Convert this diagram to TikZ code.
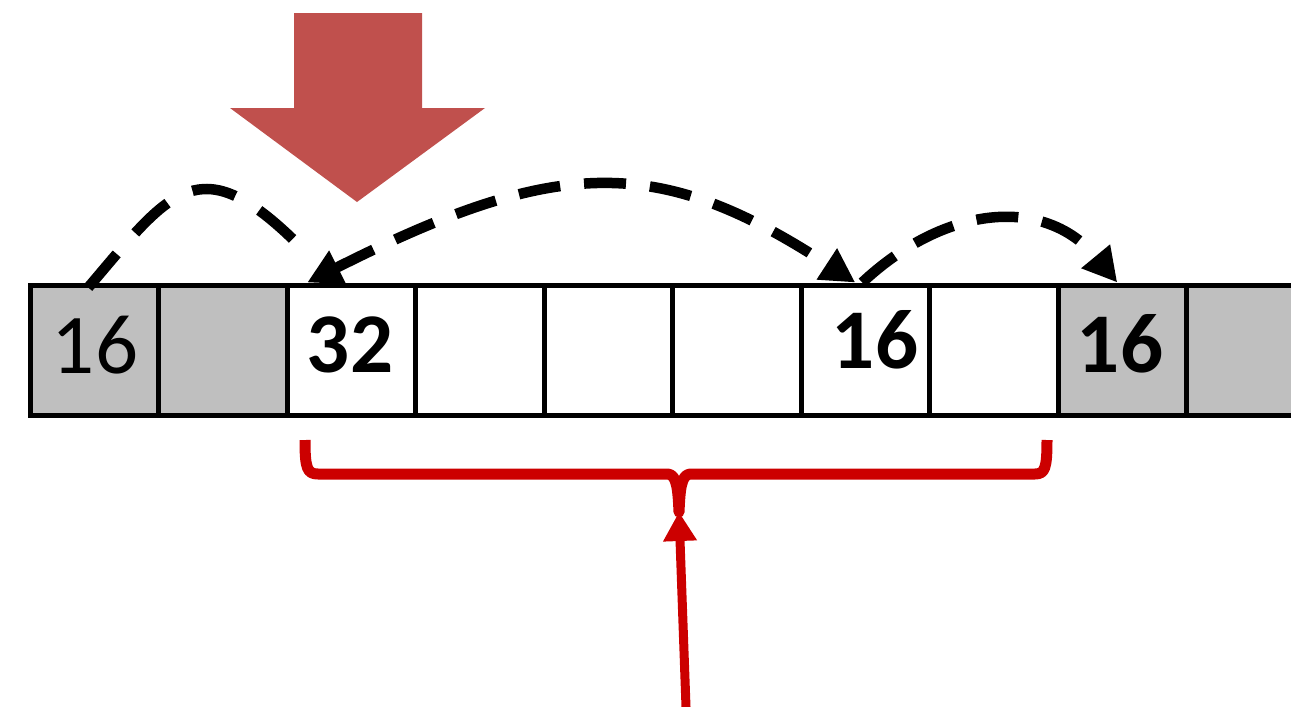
\documentclass[tikz,border=0pt]{standalone}
\usepackage{fontspec}
\setmainfont{Carlito}
\usetikzlibrary{arrows.meta,calc}
\definecolor{bigred}{HTML}{C0504D}
\definecolor{bracered}{HTML}{CC0000}
\definecolor{cellgray}{HTML}{BFBFBF}

\begin{document}
\begin{tikzpicture}[x=1pt,y=-1pt,
    cell/.style={draw,line width=5pt,minimum width=128.5pt,minimum height=130pt,inner sep=0pt},
    freecell/.style={cell,fill=cellgray},
    num/.style={font=\fontsize{85}{90}\selectfont,inner sep=0pt},
    bnum/.style={num,font=\fontsize{85}{90}\selectfont\bfseries},
    link/.style={line width=10.5pt,dash pattern=on 42pt off 24pt},
    linkhead/.style={-{Triangle[length=34pt,width=35pt]}}]
      \useasboundingbox (0,0) rectangle (1291,707);
      \clip (0,0) rectangle (1291,707);
      % the heap row
      \node[freecell] (c1) at (94.25,350) {};
      \node[freecell] (c2) at (222.75,350) {};
      \node[cell] (c3) at (351.25,350) {};
      \node[cell] (c4) at (479.75,350) {};
      \node[cell] (c5) at (608.25,350) {};
      \node[cell] (c6) at (736.75,350) {};
      \node[cell] (c7) at (865.25,350) {};
      \node[cell] (c8) at (993.75,350) {};
      \node[freecell] (c9) at (1122.25,350) {};
      \node[freecell] (c10) at (1250.75,350) {};
      \node[num] (n1) at (95,345) {16};
      \node[bnum] (n3) at (350,345) {32};
      \node[bnum] (n7) at (875,340) {16};
      \node[bnum] (n9) at (1120,344) {16};
      % links between blocks
      \draw[link,dash pattern=on 44pt off 28pt] ($(c1.north)+(-6,5)$) .. controls (171,190) and (199,146) .. ($(c3.north)+(-53,-38)$);
      \draw[link,{Triangle[length=34pt,width=35pt]}-{Triangle[length=34pt,width=35pt]}]
        ($(c3.north)+(-44,0)$) .. controls (560,155) and (660,155) .. ($(c7.north)+(-10,0)$);
      \draw[link,linkhead] ($(c7.north)+(-3,0)$) .. controls (945,205) and (1045,195) .. ($(c9.north)+(-5,0)$);
      % big arrow
      \fill[bigred] (294,13) -- (422,13) -- (422,108) -- (485,108) -- (357,202) -- (230,108) -- (294,108) -- cycle;
      % brace and pointer
      \coordinate (bracetip) at (679,512);
      \coordinate (src) at (686,707);
      \draw[bracered,line width=11pt,line join=round]
        (305,440) .. controls (305,468) and (307,474) .. (318,474) -- (668,474)
        .. controls (677,475) and (678,490) .. (bracetip)
        .. controls (680,490) and (681,475) .. (690,474) -- (1035,474)
        .. controls (1045,474) and (1047,468) .. (1047,440);
      \draw[bracered,line width=9pt,-{Triangle[length=29pt,width=32pt]}] (src) -- (bracetip);
    \end{tikzpicture}
\end{document}
